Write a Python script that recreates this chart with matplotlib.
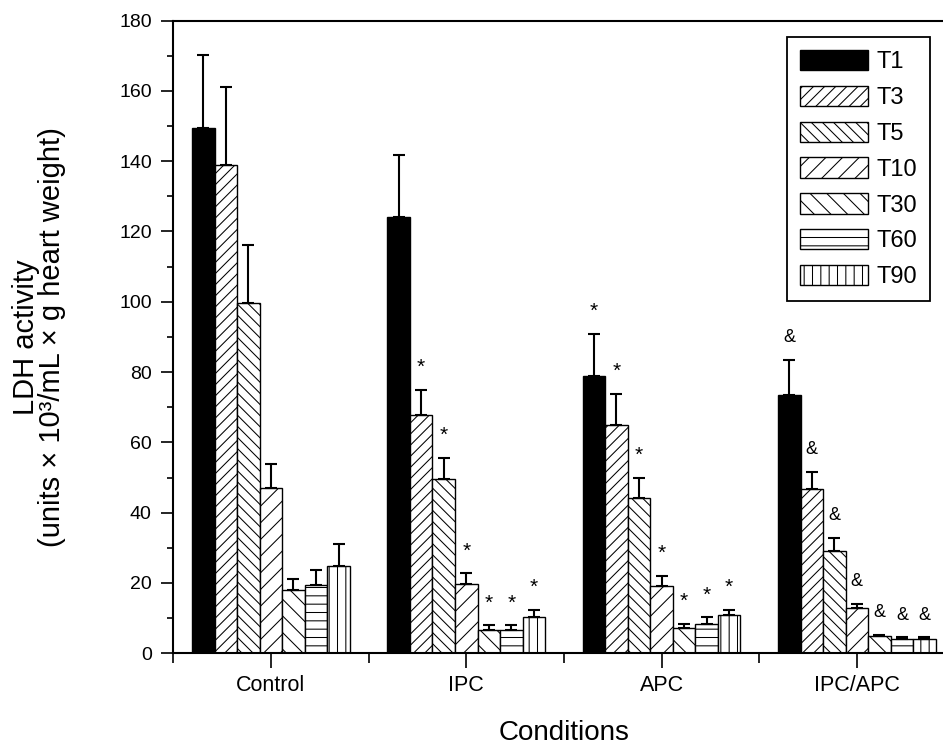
import numpy as np
import matplotlib
matplotlib.use("Agg")
import matplotlib.pyplot as plt

plt.rcParams['font.family'] = ['Liberation Sans', 'DejaVu Sans']
plt.rcParams['hatch.linewidth'] = 0.75

conditions = ["Control", "IPC", "APC", "IPC/APC"]
series = ["T1", "T3", "T5", "T10", "T30", "T60", "T90"]

# mean values per series (one value per condition)
T1 = [149.3, 124.1, 79.0, 73.4]
T3 = [138.9, 67.7, 64.8, 46.6]
T5 = [99.7, 49.5, 44.3, 29.0]
T10 = [47.0, 19.8, 19.1, 13.0]
T30 = [18.1, 6.5, 7.2, 4.9]
T60 = [19.4, 6.7, 8.4, 4.2]
T90 = [24.9, 10.2, 10.8, 4.2]

# upper error bars
T1_err = [21.0, 17.5, 11.9, 10.1]
T3_err = [22.2, 7.3, 9.0, 5.1]
T5_err = [16.4, 6.1, 5.6, 3.9]
T10_err = [6.8, 2.9, 3.0, 1.1]
T30_err = [2.9, 1.5, 1.2, 0.3]
T60_err = [4.2, 1.3, 1.8, 0.3]
T90_err = [6.1, 2.2, 1.6, 0.3]

# significance marks per series and condition
T1_mark = ["", "", "*", "&"]
T3_mark = ["", "*", "*", "&"]
T5_mark = ["", "*", "*", "&"]
T10_mark = ["", "*", "*", "&"]
T30_mark = ["", "*", "*", "&"]
T60_mark = ["", "*", "*", "&"]
T90_mark = ["", "*", "*", "&"]

values = [T1, T3, T5, T10, T30, T60, T90]
errors = [T1_err, T3_err, T5_err, T10_err, T30_err, T60_err, T90_err]
marks = [T1_mark, T3_mark, T5_mark, T10_mark, T30_mark, T60_mark, T90_mark]
hatches = [None, '///', '\\\\\\', '//', '\\\\', '--', '||']
faces = ['black'] + ['white'] * 6

fig = plt.figure(figsize=(9.43, 7.5), dpi=100)
W, H = 943, 750
ax = fig.add_axes([173.3 / W, 1 - 653.3 / H, (954.5 - 173.3) / W, (653.3 - 20.5) / H])

x = np.arange(len(conditions))
w = 0.1154
for i, (name, vals, errs, mk) in enumerate(zip(series, values, errors, marks)):
    pos = x + (i - 3) * w
    ax.bar(pos, vals, width=w, color=faces[i], edgecolor='black', linewidth=1.0,
           hatch=hatches[i], label=name, zorder=2)
    ax.errorbar(pos, vals, yerr=[np.zeros(len(errs)), errs], fmt='none',
                ecolor='black', elinewidth=1.5, capsize=4, capthick=1.5, zorder=3)
    for p, v, e, m in zip(pos, vals, errs, mk):
        if m:
            ax.annotate(m, (p, v + e), xytext=(0, 16), textcoords='offset points',
                        ha='center', va='center', fontsize=15 if m == '*' else 13)

ax.set_xlim(-0.5, 3.5)
ax.set_ylim(0, 180)
ax.set_yticks(np.arange(0, 181, 20))
ax.set_yticks(np.arange(0, 181, 10), minor=True)
ax.set_xticks(x)
ax.set_xticklabels(conditions)
ax.set_xticks(np.arange(-0.5, 3.6, 1.0), minor=True)

ax.tick_params(axis='y', which='major', direction='out', length=8.5, width=1.2, labelsize=14, pad=7)
ax.tick_params(axis='y', which='minor', direction='out', length=4, width=1.2)
ax.tick_params(axis='x', which='major', direction='out', length=10.8, width=1.2, labelsize=15.5, pad=5)
ax.tick_params(axis='x', which='minor', direction='out', length=7, width=1.2)

for s in ax.spines.values():
    s.set_linewidth(1.5)

ax.set_xlabel("Conditions", fontsize=20, labelpad=17)
ax.set_ylabel("LDH activity\n(units × 10³/mL × g heart weight)", fontsize=21, labelpad=38,
              linespacing=0.9)

leg = ax.legend(loc='upper right', bbox_to_anchor=(930 / W, 1 - 37 / H),
                bbox_transform=fig.transFigure, borderaxespad=0, fancybox=False,
                edgecolor='black', fontsize=17, handlelength=2.88, handleheight=0.95,
                labelspacing=0.53, handletextpad=0.35, borderpad=0.55, framealpha=1)
leg.get_frame().set_linewidth(1.3)

fig.savefig("out.png", dpi=100)
